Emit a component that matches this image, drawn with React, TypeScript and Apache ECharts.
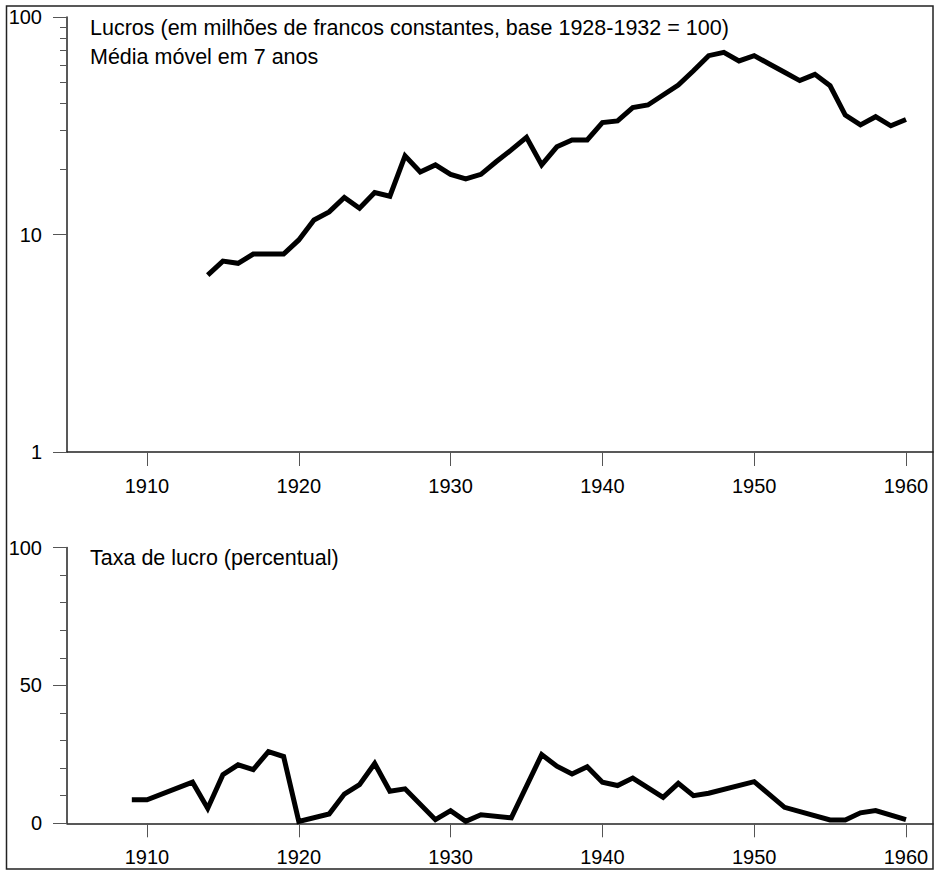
import React, { useEffect, useRef } from "react";
import * as echarts from "echarts";

const FONT = "'Liberation Sans', Arial, Helvetica, sans-serif";

// Top panel: profits (millions of constant francs, base 1928-1932 = 100), 7-year moving average
const profitYears = [
  1914, 1915, 1916, 1917, 1918, 1919, 1920, 1921, 1922, 1923, 1924, 1925, 1926, 1927, 1928, 1929,
  1930, 1931, 1932, 1933, 1934, 1935, 1936, 1937, 1938, 1939, 1940, 1941, 1942, 1943, 1944, 1945,
  1946, 1947, 1948, 1949, 1950, 1951, 1952, 1953, 1954, 1955, 1956, 1957, 1958, 1959, 1960,
];
const profitValues = [
  6.5, 7.55, 7.37, 8.13, 8.13, 8.13, 9.44, 11.66, 12.7, 14.8, 13.2, 15.6, 15.0, 23.0, 19.4, 20.9,
  18.9, 18.0, 18.9, 21.6, 24.5, 28.0, 20.9, 25.3, 27.2, 27.2, 32.7, 33.3, 38.3, 39.4, 43.8, 48.7,
  56.6, 66.4, 68.8, 62.8, 66.4, 60.8, 55.7, 51.0, 54.5, 48.3, 35.4, 31.9, 34.8, 31.6, 33.8,
];

// Bottom panel: profit rate (percent)
const rateYears = [
  1909, 1910, 1913, 1914, 1915, 1916, 1917, 1918, 1919, 1920, 1922, 1923, 1924, 1925, 1926, 1927,
  1929, 1930, 1931, 1932, 1934, 1936, 1937, 1938, 1939, 1940, 1941, 1942, 1944, 1945, 1946, 1947,
  1950, 1952, 1955, 1956, 1957, 1958, 1960,
];
const rateValues = [
  8.5, 8.5, 14.9, 5.4, 17.6, 21.2, 19.5, 26.0, 24.2, 0.7, 3.4, 10.6, 14.0, 21.7, 11.6, 12.5,
  1.3, 4.6, 0.7, 3.1, 2.0, 24.9, 20.7, 17.9, 20.5, 14.9, 13.7, 16.4, 9.4, 14.5, 10.0, 10.9,
  15.1, 5.8, 1.2, 1.2, 3.8, 4.6, 1.3,
];

const xTickYears = [1910, 1920, 1930, 1940, 1950, 1960];
const topMajorTicks = [1, 10, 100];
const topMinorTicks = [20, 30, 40, 50, 60, 70, 80, 90];

const topTitle1 = "Lucros (em milhões de francos constantes, base 1928-1932 = 100)";
const topTitle2 = "Média móvel em 7 anos";
const bottomTitle = "Taxa de lucro (percentual)";

const X_MIN = 1904.73;
const X_MAX = 1961.78;

export default function App() {
  const ref = useRef<HTMLDivElement>(null);

  useEffect(() => {
    if (!ref.current) return;
    const chart = echarts.init(ref.current, null, { renderer: "svg" });

    const axisLine = { show: true, lineStyle: { color: "#222", width: 1.5 } };
    const tickStyle = { color: "#555", width: 1 };
    const labelStyle = { color: "#000", fontSize: 20, fontFamily: FONT };
    const titleStyle = { fill: "#000", fontSize: 21.5, fontFamily: FONT, verticalAlign: "middle", align: "left" };

    const xAxisBase = (gridIndex: number) => ({
      type: "value",
      gridIndex,
      min: X_MIN,
      max: X_MAX,
      axisLine,
      splitLine: { show: false },
      axisTick: { show: true, length: 14, lineStyle: tickStyle, customValues: xTickYears },
      axisLabel: { ...labelStyle, margin: 24, customValues: xTickYears, formatter: (v: number) => String(Math.round(v)) },
    });

    const option: any = {
      animation: false,
      backgroundColor: "#fff",
      textStyle: { fontFamily: FONT },
      grid: [
        { left: 67, top: 17, width: 866, height: 435, containLabel: false },
        { left: 67, top: 547.5, width: 866, height: 275.8, containLabel: false },
      ],
      xAxis: [xAxisBase(0), xAxisBase(1)],
      yAxis: [
        {
          type: "log",
          gridIndex: 0,
          logBase: 10,
          min: 1,
          max: 100,
          position: "left",
          axisLine,
          splitLine: { show: false },
          axisTick: { show: true, length: 14, lineStyle: tickStyle, customValues: topMajorTicks },
          axisLabel: { ...labelStyle, margin: 25, customValues: topMajorTicks },
        },
        {
          type: "log",
          gridIndex: 0,
          logBase: 10,
          min: 1,
          max: 100,
          position: "left",
          offset: 0,
          axisLine: { show: false },
          splitLine: { show: false },
          axisTick: { show: true, length: 7, lineStyle: tickStyle, customValues: topMinorTicks },
          axisLabel: { show: false },
        },
        {
          type: "value",
          gridIndex: 1,
          min: 0,
          max: 100,
          interval: 50,
          position: "left",
          axisLine,
          splitLine: { show: false },
          axisTick: { show: true, length: 14, lineStyle: tickStyle },
          minorTick: { show: true, splitNumber: 5, length: 7, lineStyle: tickStyle },
          minorSplitLine: { show: false },
          axisLabel: { ...labelStyle, margin: 25 },
        },
      ],
      series: [
        {
          type: "line",
          xAxisIndex: 0,
          yAxisIndex: 0,
          data: profitYears.map((y, i) => [y, profitValues[i]]),
          showSymbol: false,
          symbol: "none",
          clip: false,
          lineStyle: { color: "#000", width: 5, join: "miter", cap: "butt" },
          z: 5,
        },
        {
          type: "line",
          xAxisIndex: 1,
          yAxisIndex: 2,
          data: rateYears.map((y, i) => [y, rateValues[i]]),
          showSymbol: false,
          symbol: "none",
          clip: false,
          lineStyle: { color: "#000", width: 5, join: "miter", cap: "butt" },
          z: 5,
        },
      ],
      graphic: [
        {
          type: "rect",
          shape: { x: 6.5, y: 6, width: 926.5, height: 863 },
          style: { fill: "none", stroke: "#222", lineWidth: 1.5 },
          silent: true,
          z: 0,
        },
        { type: "text", x: 90, y: 28.3, style: { text: topTitle1, ...titleStyle } },
        { type: "text", x: 90, y: 56.5, style: { text: topTitle2, ...titleStyle } },
        { type: "text", x: 90, y: 558, style: { text: bottomTitle, ...titleStyle } },
      ],
    };

    chart.setOption(option);
    return () => chart.dispose();
  }, []);

  return (
    <div
      ref={ref}
      style={{ position: "absolute", left: 0, top: 0, width: 935, height: 871, background: "#fff" }}
    />
  );
}
